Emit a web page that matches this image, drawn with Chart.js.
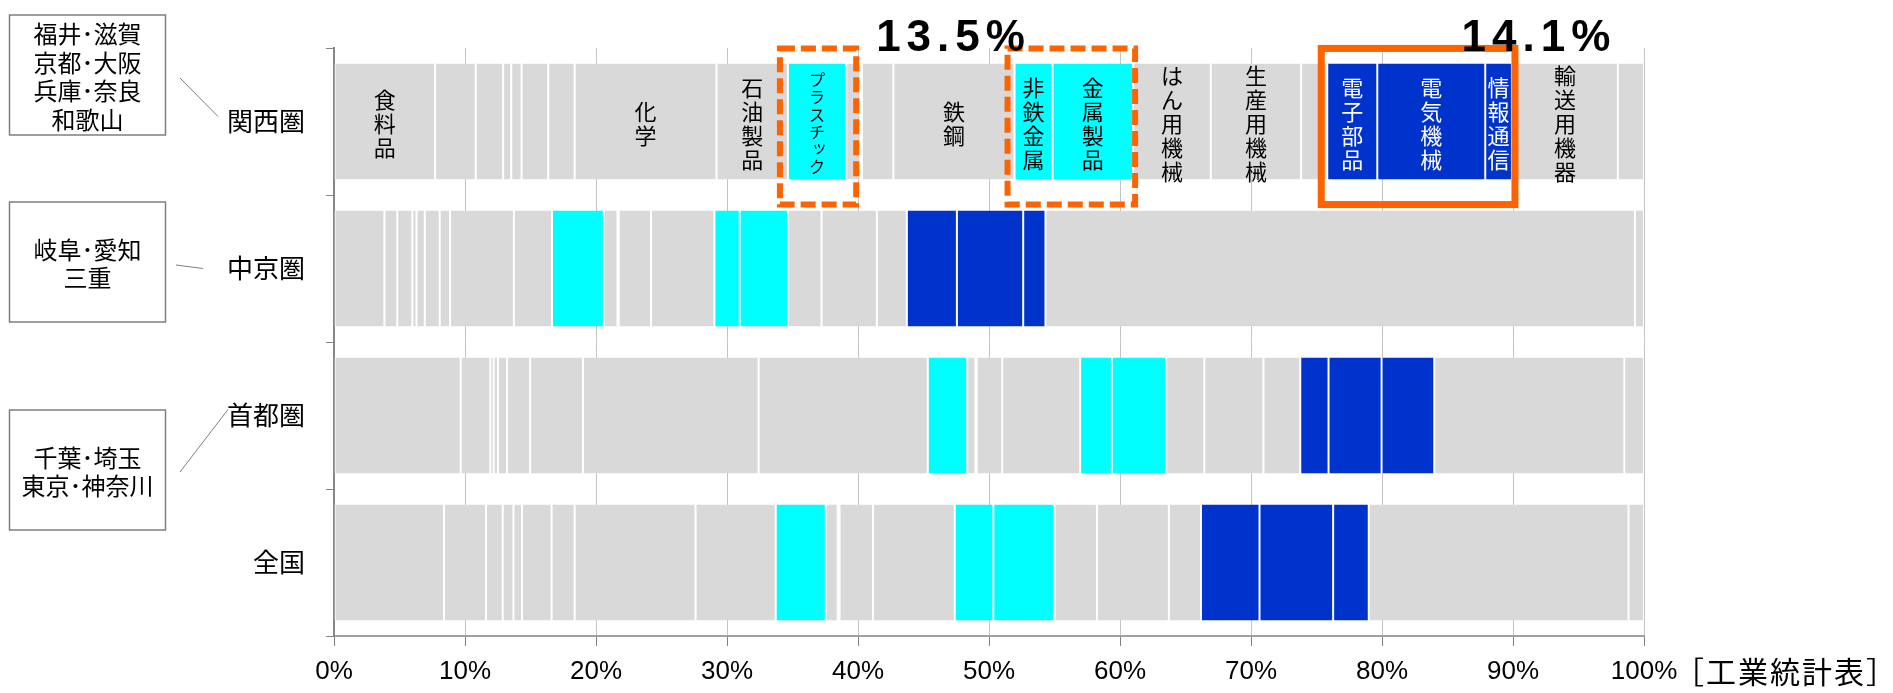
<!DOCTYPE html>
<html lang="ja">
<head>
<meta charset="utf-8">
<script src="https://cdn.jsdelivr.net/npm/chart.js@4/dist/chart.umd.min.js"></script>
<style>
  html, body { margin: 0; padding: 0; background: #fff; }
  #wrap { width: 1893px; height: 693px; }
</style>
</head>
<body>
<div id="wrap"><canvas id="chart" width="1893" height="693"></canvas></div>
<script>
// Regions (rows, top to bottom)
const regions = ['関西圏', '中京圏', '首都圏', '全国'];

// Manufacturing industries in stacking order
const industries = [
  '食料品', '飲料・たばこ・飼料', '繊維', '木材・木製品', '家具・装備品', 'パルプ・紙',
  '印刷', '化学', '石油製品', 'プラスチック', 'ゴム製品', 'なめし革',
  '窯業・土石', '鉄鋼', '非鉄金属', '金属製品', 'はん用機械', '生産用機械',
  '業務用機械', '電子部品', '電気機械', '情報通信', '輸送用機器', 'その他'
];

// Share of shipments by industry (%), one array per region
const kansai   = [7.72, 3.10, 2.09, 0.62, 0.79, 2.03, 2.02, 10.83, 5.45, 4.45, 1.10, 0.10,
                  2.40, 9.25, 2.90, 6.15, 5.93, 6.89, 2.00, 3.82, 8.24, 2.04, 8.08, 2.00];
const chukyo   = [3.85, 0.98, 1.15, 0.32, 0.63, 1.14, 0.79, 4.87, 2.91, 3.96, 1.04, 0.10,
                  2.46, 4.84, 1.93, 3.69, 2.56, 4.22, 2.29, 3.82, 5.06, 1.70, 45.00, 0.69];
const shutoken = [9.67, 2.26, 0.26, 0.33, 0.69, 1.76, 4.03, 13.41, 12.92, 3.01, 0.62, 0.10,
                  1.95, 5.95, 2.42, 4.15, 2.91, 4.51, 2.81, 2.16, 4.05, 4.02, 14.51, 1.50];
const zenkoku  = [8.40, 3.20, 1.28, 0.82, 0.65, 2.26, 1.76, 9.23, 6.12, 3.82, 0.91, 0.14,
                  2.55, 6.25, 2.94, 4.67, 3.24, 5.49, 2.45, 4.47, 5.62, 2.72, 19.83, 1.18];

// Axis ticks (%)
const xTicks = [0, 10, 20, 30, 40, 50, 60, 70, 80, 90, 100];

// Names written inside the 関西圏 bar ('' = no name)
const barTags = [
  '食料品', '', '', '', '', '', '', '化学', '石油製品', 'プラスチック', '', '',
  '', '鉄鋼', '非鉄金属', '金属製品', 'はん用機械', '生産用機械', '', '電子部品', '電気機械', '情報通信', '輸送用機器', ''
];

// Highlighted industry groups (dataset indices)
const materialGroup = [9, 14, 15];
const electricGroup = [19, 20, 21];

// Prefectures belonging to each region
const prefectureNotes = [
  ['福井･滋賀', '京都･大阪', '兵庫･奈良', '和歌山'],
  ['岐阜･愛知', '三重'],
  ['千葉･埼玉', '東京･神奈川']
];
const sourceNote = '［工業統計表］';

const GRAY = '#d9d9d9', CYAN = '#00ffff', BLUE = '#0033cc', ORANGE = '#ff6300';
const JP = '"Noto Sans CJK JP", "Noto Sans CJK SC", sans-serif';

function colorOf(i) {
  if (materialGroup.includes(i)) return CYAN;
  if (electricGroup.includes(i)) return BLUE;
  return GRAY;
}

const regionData = [kansai, chukyo, shutoken, zenkoku];
const datasets = industries.map((name, i) => ({
  label: name,
  data: regionData.map(arr => arr[i]),
  backgroundColor: colorOf(i),
  borderColor: '#ffffff',
  borderWidth: { left: 1, right: 1, top: 0, bottom: 0 },
  borderSkipped: false,
  categoryPercentage: 1,
  barPercentage: 0.79
}));

function drawVertical(ctx, text, cx, cy, size, color) {
  const chars = [...text];
  const pitch = size * 1.09;
  ctx.font = `${size}px ${JP}`;
  ctx.fillStyle = color;
  ctx.textAlign = 'center';
  ctx.textBaseline = 'middle';
  const first = cy + 2 - pitch * (chars.length - 1) / 2;
  chars.forEach((ch, k) => {
    let dx = 0, dy = 0;
    if ('ッャュョァィゥェォ'.includes(ch)) { dx = size * 0.14; dy = -size * 0.14; }
    ctx.fillText(ch, cx + dx, first + k * pitch + dy);
  });
}

function spanOf(chart, list) {
  const els = list.map(di => chart.getDatasetMeta(di).data[0]);
  return {
    left: Math.min(...els.map(e => Math.min(e.x, e.base))),
    right: Math.max(...els.map(e => Math.max(e.x, e.base))),
    top: els[0].y - els[0].height / 2,
    bottom: els[0].y + els[0].height / 2
  };
}

function sumOf(list) {
  return list.reduce((s, i) => s + kansai[i], 0);
}

const decorations = {
  id: 'decorations',
  afterDatasetsDraw(chart) {
    const ctx = chart.ctx;
    ctx.save();

    // Industry names inside the 関西圏 bar
    barTags.forEach((tag, di) => {
      if (!tag) return;
      const bar = chart.getDatasetMeta(di).data[0];
      const cx = (bar.x + bar.base) / 2;
      const size = [...tag].length > 5 ? 16 : 22;
      drawVertical(ctx, tag, cx, bar.y, size, colorOf(di) === BLUE ? '#ffffff' : '#000000');
    });

    // Highlight frames
    const plastic = spanOf(chart, [9]);
    const metals = spanOf(chart, [14, 15]);
    const electric = spanOf(chart, electricGroup);
    const fTop = plastic.top - 15, fBottom = plastic.bottom + 25;

    ctx.strokeStyle = ORANGE;
    ctx.lineWidth = 6;
    ctx.setLineDash([15, 6]);
    ctx.strokeRect(plastic.left - 8, fTop, plastic.right - plastic.left + 18, fBottom - fTop);
    ctx.strokeRect(metals.left - 7, fTop, metals.right - metals.left + 9, fBottom - fTop);
    ctx.setLineDash([]);
    ctx.lineWidth = 7;
    ctx.strokeRect(electric.left - 6, fTop, electric.right - electric.left + 9, fBottom - fTop);

    // Group totals
    ctx.fillStyle = '#000';
    ctx.font = `bold 44px "Liberation Sans", Arial, sans-serif`;
    ctx.textAlign = 'center';
    ctx.textBaseline = 'alphabetic';
    if ('letterSpacing' in ctx) ctx.letterSpacing = '6px';
    const matX = (plastic.left - 8 + metals.right + 2) / 2 - 4;
    ctx.fillText(sumOf(materialGroup).toFixed(1) + '%', matX, fTop + 3);
    ctx.fillText(sumOf(electricGroup).toFixed(1) + '%', electric.right + 27, fTop + 3);
    if ('letterSpacing' in ctx) ctx.letterSpacing = '0px';

    // Prefecture boxes with leader lines to the region labels
    const yScale = chart.scales.y;
    const boxes = [
      { x: 9.5, y: 15, w: 156, h: 120, from: [180, 78], to: [218, yScale.getPixelForValue(0) - 5] },
      { x: 9.5, y: 202, w: 156, h: 120, from: [176, 265], to: [203, yScale.getPixelForValue(1)] },
      { x: 9.5, y: 410, w: 156, h: 120, from: [180, 472], to: [228, yScale.getPixelForValue(2) - 6] }
    ];
    boxes.forEach((b, k) => {
      ctx.strokeStyle = '#7f7f7f';
      ctx.lineWidth = 1.5;
      ctx.strokeRect(b.x, b.y, b.w, b.h);
      ctx.lineWidth = 1;
      ctx.beginPath();
      ctx.moveTo(b.from[0], b.from[1]);
      ctx.lineTo(b.to[0], b.to[1]);
      ctx.stroke();
      const lines = prefectureNotes[k];
      ctx.font = `24px ${JP}`;
      ctx.fillStyle = '#000';
      ctx.textAlign = 'center';
      ctx.textBaseline = 'middle';
      lines.forEach((ln, j) => {
        ctx.fillText(ln, b.x + b.w / 2, b.y + b.h / 2 + 2 + (j - (lines.length - 1) / 2) * 28.6);
      });
    });

    // Source
    const xScale = chart.scales.x;
    ctx.font = `30px ${JP}`;
    ctx.textAlign = 'left';
    ctx.textBaseline = 'middle';
    ctx.fillStyle = '#000';
    if ('letterSpacing' in ctx) ctx.letterSpacing = '2px';
    ctx.fillText(sourceNote, xScale.right + 30, 672);
    if ('letterSpacing' in ctx) ctx.letterSpacing = '0px';

    ctx.restore();
  }
};

new Chart(document.getElementById('chart'), {
  type: 'bar',
  data: { labels: regions, datasets },
  options: {
    indexAxis: 'y',
    responsive: false,
    animation: false,
    devicePixelRatio: 1,
    layout: { padding: { top: 48, right: 249, left: 0, bottom: 0 } },
    plugins: { legend: { display: false }, tooltip: { enabled: false } },
    scales: {
      x: {
        stacked: true,
        min: 0,
        max: 100,
        afterBuildTicks: scale => { scale.ticks = xTicks.map(v => ({ value: v })); },
        afterFit: scale => { scale.height = 57; },
        grid: { color: '#c4c4c4', tickColor: '#808080', tickLength: 10, lineWidth: 1 },
        border: { color: '#a0a0a0', width: 2 },
        ticks: {
          callback: v => v + '%',
          font: { family: '"Liberation Sans", Arial, sans-serif', size: 26 },
          color: '#000',
          padding: 10,
          maxRotation: 0,
          autoSkip: false
        }
      },
      y: {
        stacked: true,
        afterFit: scale => { scale.width = 334; },
        grid: { drawOnChartArea: false, tickLength: 8, tickColor: '#868686', offset: true },
        border: { color: '#868686', width: 2 },
        ticks: { font: { family: JP, size: 26 }, color: '#000', padding: 21 }
      }
    }
  },
  plugins: [decorations]
});
</script>
</body>
</html>
